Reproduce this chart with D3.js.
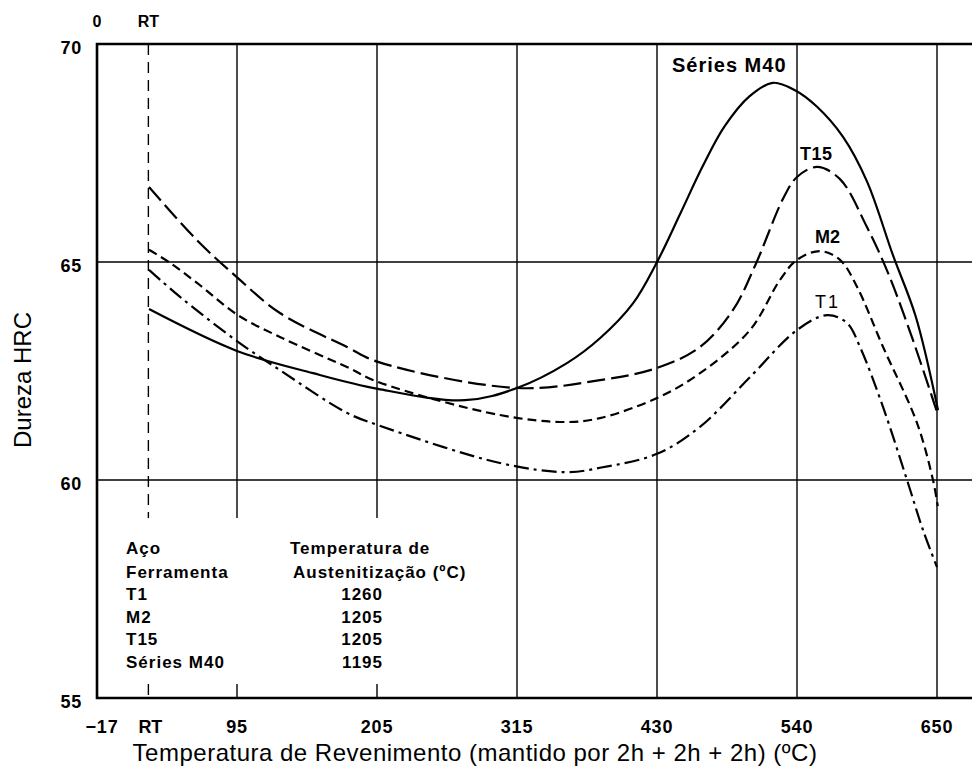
<!DOCTYPE html>
<html lang="pt">

<head>
    <meta charset="UTF-8">
    <title>Dureza x Temperatura de Revenimento</title>
    <style>
        body { margin: 0; background: #fff; }
        text { font-family: "Liberation Sans", Arial, sans-serif; fill: #000; }
    </style>
</head>

<body>
    <script src='https://d3js.org/d3.v7.min.js'></script>
    <script>
        // Axis ticks (original chart grid is in steps of 200 F, labelled in C)
        const tickF = [0, 200, 400, 600, 800, 1000, 1200];
        const tickLabels = ["\u221217", "95", "205", "315", "430", "540", "650"];
        const rtC = 23;
        const hrcTicks = [55, 60, 65, 70];

        // Curves: [temperatura C, HRC]
        const t1 = [[23.5, 64.82], [48.1, 64.20], [94.1, 63.17], [127.4, 62.52], [180.6, 61.54], [205.2, 61.26],
            [302, 60.39], [355.2, 60.18], [381.4, 60.28], [426.7, 60.60], [460.8, 61.22], [500.5, 62.36],
            [537.8, 63.44], [561.6, 63.78], [577.5, 63.60], [587.8, 63.05], [606.1, 61.67], [625.1, 60.0],
            [637.8, 58.85], [648.9, 58.0]];
        const m2 = [[23.5, 65.28], [40.2, 64.98], [61.6, 64.52], [94.1, 63.78], [127.4, 63.28], [180.6, 62.59],
            [205.2, 62.25], [302, 61.49], [355.2, 61.33], [381.4, 61.42], [426.7, 61.88], [460.8, 62.45],
            [500.5, 63.44], [524.3, 64.59], [537.8, 65.05], [556, 65.25], [571.9, 65.05], [585.4, 64.43],
            [606.1, 63.05], [633, 61.31], [645.7, 60.0], [649.5, 59.4]];
        const t15 = [[23.5, 66.72], [61.6, 65.50], [94.1, 64.63], [127.4, 63.83], [180.6, 63.05],
            [205.2, 62.71], [315.6, 62.11], [381.4, 62.29], [426.7, 62.57], [460.8, 63.05],
            [487, 63.9], [505, 64.95], [526.7, 66.45], [537.8, 66.95], [553.7, 67.18],
            [571.9, 66.9], [593.3, 65.8], [610, 64.75], [629.9, 63.2], [648.9, 61.56]];
        const m40 = [[23.5, 63.92], [93.3, 62.96], [153.7, 62.45], [205.2, 62.09], [274.3, 61.83],
            [315.6, 62.11], [355.2, 62.68], [381.4, 63.25], [407.6, 64.05], [426.7, 65.0], [445, 66.1],
            [463, 67.2], [480, 68.1], [500, 68.8], [518.7, 69.11], [536.2, 68.94], [553.7, 68.56],
            [574.3, 67.87], [593.3, 66.85], [614, 65.15], [632, 63.75], [649.7, 61.6]];

        // Legend table
        const steels = ["T1", "M2", "T15", "S\u00e9ries M40"];
        const austTemps = [1260, 1205, 1205, 1195];

        const width = 972; const height = 778;
        const fToC = f => (f - 32) / 1.8;

        var svg = d3.select("body")
            .append("svg")
            .attr("width", width)
            .attr("height", height);

        let x = d3.scaleLinear()
            .domain([fToC(0), fToC(1200)])
            .range([97, 937]);
        let y = d3.scaleLinear()
            .domain([55, 70])
            .range([698, 44]);

        // vertical grid; the ones behind the legend table are interrupted
        const gapTop = 518, gapBottom = 684;
        function vline(xc, dash) {
            let segs = xc < 460 ? [[y(70), gapTop], [gapBottom, y(55)]] : [[y(70), y(55)]];
            segs.forEach(s => {
                svg.append("line")
                    .attr("x1", xc).attr("x2", xc)
                    .attr("y1", s[0]).attr("y2", s[1])
                    .attr("stroke", "#000").attr("stroke-width", 1.4)
                    .attr("stroke-dasharray", dash);
            });
        }
        tickF.slice(1).forEach(f => vline(x(fToC(f)), null));
        vline(x(rtC), "11,7");

        // horizontal grid
        svg.selectAll(".hgrid")
            .data([60, 65])
            .enter()
            .append("line")
            .attr("x1", x(fToC(0))).attr("x2", width)
            .attr("y1", d => y(d)).attr("y2", d => y(d))
            .attr("stroke", "#000").attr("stroke-width", 1.4);

        // frame: top, bottom, left
        svg.append("path")
            .attr("d", "M" + width + "," + y(70) + "H" + x(fToC(0)) + "V" + y(55) + "H" + width)
            .attr("fill", "none").attr("stroke", "#000").attr("stroke-width", 2.6);

        // bottom tick labels
        svg.selectAll(".xlab")
            .data(tickF)
            .enter()
            .append("text")
            .attr("x", (d, i) => x(fToC(d)) + (i == 0 ? 5 : 0))
            .attr("y", 733)
            .attr("text-anchor", "middle")
            .style("font-size", "18px").style("font-weight", "bold").style("letter-spacing", "0.8px")
            .text((d, i) => tickLabels[i]);
        svg.append("text")
            .attr("x", x(rtC) + 2).attr("y", 733)
            .attr("text-anchor", "middle")
            .style("font-size", "18px").style("font-weight", "bold")
            .text("RT");

        // top labels
        svg.append("text")
            .attr("x", x(fToC(0))).attr("y", 27)
            .attr("text-anchor", "middle")
            .style("font-size", "16px").style("font-weight", "bold")
            .text("0");
        svg.append("text")
            .attr("x", x(rtC)).attr("y", 27)
            .attr("text-anchor", "middle")
            .style("font-size", "16px").style("font-weight", "bold")
            .text("RT");

        // y tick labels
        svg.selectAll(".ylab")
            .data(hrcTicks)
            .enter()
            .append("text")
            .attr("x", 82)
            .attr("y", d => y(d) + 10)
            .attr("text-anchor", "end")
            .style("font-size", "18px").style("font-weight", "bold").style("letter-spacing", "0.8px")
            .text(d => d);

        // axis titles
        svg.append("text")
            .attr("transform", "translate(31,380) rotate(-90)")
            .attr("text-anchor", "middle")
            .style("font-size", "24px")
            .text("Dureza HRC");
        svg.append("text")
            .attr("x", 475).attr("y", 761)
            .attr("text-anchor", "middle")
            .style("font-size", "24px").style("letter-spacing", "0.5px")
            .text("Temperatura de Revenimento (mantido por 2h + 2h + 2h) (\u00baC)");

        // curves
        let line = d3.line()
            .x(d => x(d[0]))
            .y(d => y(d[1]))
            .curve(d3.curveCatmullRom);
        const curves = [
            { data: m40, dash: null },
            { data: t15, dash: "18,6" },
            { data: m2, dash: "9,5" },
            { data: t1, dash: "15,5,3,5" }
        ];
        curves.forEach(c => {
            svg.append("path")
                .datum(c.data)
                .attr("fill", "none")
                .attr("stroke", "#000")
                .attr("stroke-width", 2.2)
                .attr("stroke-dasharray", c.dash)
                .attr("d", line);
        });

        // curve labels
        svg.append("text").attr("x", 672).attr("y", 72)
            .style("font-size", "20px").style("font-weight", "bold").style("letter-spacing", "1px")
            .text("S\u00e9ries M40");
        svg.append("text").attr("x", 800).attr("y", 160)
            .style("font-size", "18px").style("font-weight", "bold").style("letter-spacing", "0.5px")
            .text("T15");
        svg.append("text").attr("x", 815).attr("y", 243)
            .style("font-size", "18px").style("font-weight", "bold")
            .text("M2");
        svg.append("text").attr("x", 815).attr("y", 308)
            .style("font-size", "18px").style("letter-spacing", "2px")
            .text("T1");

        // legend table
        let legend = svg.append("g")
            .style("font-size", "17px").style("font-weight", "bold").style("letter-spacing", "1px");
        legend.append("text").attr("x", 126).attr("y", 554).text("A\u00e7o");
        legend.append("text").attr("x", 126).attr("y", 578).text("Ferramenta");
        legend.append("text").attr("x", 290).attr("y", 554).text("Temperatura de");
        legend.append("text").attr("x", 293).attr("y", 578).text("Austenitiza\u00e7\u00e3o (\u00baC)");
        const rowY = [600, 623, 645, 668];
        legend.selectAll(".steel")
            .data(steels)
            .enter()
            .append("text")
            .attr("x", 126).attr("y", (d, i) => rowY[i])
            .text(d => d);
        legend.selectAll(".aust")
            .data(austTemps)
            .enter()
            .append("text")
            .attr("x", 383).attr("y", (d, i) => rowY[i])
            .attr("text-anchor", "end")
            .text(d => d);
    </script>
</body>

</html>
